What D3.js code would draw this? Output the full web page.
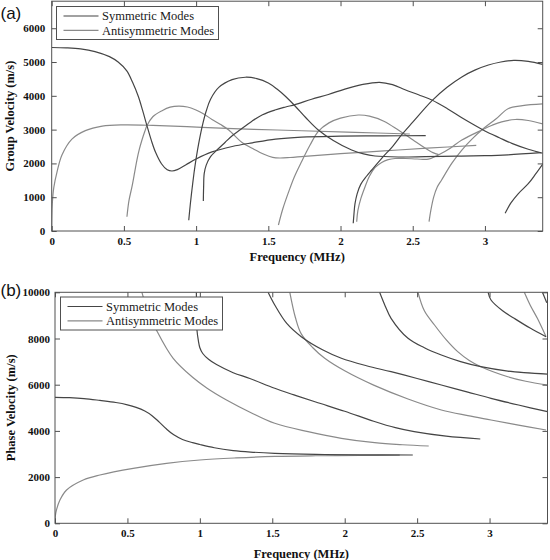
<!DOCTYPE html>
<html><head><meta charset="utf-8">
<script src="https://cdn.jsdelivr.net/npm/d3@7"></script>
<style>body{margin:0;background:#fff}svg{display:block}</style>
</head><body>
<svg id="c" width="550" height="560"></svg>
<script>
// ---------- tick labels / legend ----------
const freqTicks = [0, 0.5, 1, 1.5, 2, 2.5, 3];
const groupTicks = [0, 1000, 2000, 3000, 4000, 5000, 6000];
const phaseTicks = [0, 2000, 4000, 6000, 8000, 10000];
const legendLabels = ["Symmetric Modes", "Antisymmetric Modes"];

// ---------- (a) group velocity, [frequency MHz, velocity m/s] ----------
const groupS0 = [[0,5430],[0.1,5420],[0.2,5390],[0.3,5310],[0.4,5160],[0.46,5000],[0.52,4740],[0.56,4400],[0.6,3980],[0.63,3560],[0.66,3110],[0.69,2680],[0.72,2320],[0.76,1990],[0.8,1810],[0.833,1775],[0.87,1815],[0.93,1960],[1.0,2130],[1.11,2340],[1.25,2500],[1.39,2610],[1.55,2720],[1.73,2780],[2.0,2805],[2.3,2815],[2.59,2822]];
const groupA0 = [[0,0],[0.004,800],[0.015,1300],[0.037,1750],[0.071,2250],[0.14,2720],[0.233,2970],[0.35,3105],[0.5,3140],[0.7,3125],[1.04,3068],[1.4,3010],[1.733,2967],[2.1,2920],[2.48,2870]];
const groupA1 = [[0.521,420],[0.535,900],[0.556,1311],[0.575,1750],[0.59,2100],[0.607,2420],[0.625,2692],[0.645,2950],[0.66,3120],[0.7,3380],[0.764,3560],[0.82,3665],[0.88,3698],[0.94,3670],[0.995,3590],[1.05,3470],[1.11,3300],[1.17,3150],[1.226,2988],[1.318,2620],[1.4,2420],[1.47,2270],[1.53,2180],[1.58,2160],[1.65,2175],[1.75,2210],[2.0,2290],[2.3,2370],[2.6,2450],[2.94,2535]];
const groupS1 = [[0.949,320],[0.96,800],[0.972,1250],[0.985,1700],[0.995,2003],[1.01,2400],[1.025,2750],[1.045,3150],[1.07,3550],[1.1,3900],[1.157,4250],[1.249,4480],[1.341,4550],[1.42,4510],[1.5,4380],[1.56,4200],[1.62,3980],[1.685,3700],[1.76,3350],[1.846,2988],[1.95,2680],[2.077,2396],[2.16,2280],[2.239,2219],[2.4,2190],[2.585,2199],[2.8,2215],[3.0,2230],[3.16,2255],[3.39,2317]];
const groupS2 = [[1.05,888],[1.052,1300],[1.056,1700],[1.07,1950],[1.1,2200],[1.15,2420],[1.2,2620],[1.25,2820],[1.3,2980],[1.387,3250],[1.46,3440],[1.546,3580],[1.62,3670],[1.685,3740],[1.8,3900],[1.916,4040],[2.03,4200],[2.147,4330],[2.27,4400],[2.36,4330],[2.447,4180],[2.54,4030],[2.632,3876],[2.74,3620],[2.84,3350],[2.92,3150],[3.0,2960],[3.1,2760],[3.186,2594],[3.3,2420],[3.4,2300]];
const groupA2 = [[1.57,177],[1.6,650],[1.64,1150],[1.68,1600],[1.73,2050],[1.79,2550],[1.846,2950],[1.92,3200],[2.0,3340],[2.123,3432],[2.2,3400],[2.3,3250],[2.4,2988],[2.5,2700],[2.58,2470],[2.64,2320],[2.68,2260]];
const groupS3 = [[2.088,228],[2.093,500],[2.1,800],[2.115,1100],[2.14,1380],[2.18,1620],[2.216,1805],[2.285,2150],[2.36,2500],[2.424,2850],[2.5,3220],[2.632,3850],[2.74,4260],[2.84,4560],[2.93,4760],[3.024,4911],[3.11,5000],[3.2,5050],[3.3,5020],[3.4,4930]];
const groupA3 = [[2.112,275],[2.12,600],[2.14,950],[2.17,1311],[2.2,1620],[2.24,1880],[2.285,2030],[2.33,2110],[2.377,2145],[2.45,2145],[2.53,2130],[2.608,2125],[2.677,2249],[2.76,2450],[2.84,2692],[2.978,2988],[3.05,3130],[3.116,3230],[3.21,3300],[3.3,3270],[3.4,3170]];
const groupA4 = [[2.613,275],[2.625,600],[2.645,1000],[2.67,1300],[2.7,1509],[2.77,2000],[2.84,2396],[2.91,2720],[2.978,2988],[3.08,3330],[3.16,3620],[3.26,3710],[3.4,3760]];
const groupS4 = [[3.14,523],[3.18,830],[3.23,1100],[3.3,1400],[3.35,1680],[3.404,2003]];

// ---------- (b) phase velocity, [frequency MHz, velocity m/s] ----------
const phaseS0 = [[0,5455],[0.1,5440],[0.2,5400],[0.31,5320],[0.42,5230],[0.5,5130],[0.56,5020],[0.62,4860],[0.67,4660],[0.72,4380],[0.77,4080],[0.82,3830],[0.88,3630],[0.95,3490],[1.0,3410],[1.1,3270],[1.23,3150],[1.35,3085],[1.517,3030],[1.8,2985],[2.1,2965],[2.47,2957]];
const phaseA0 = [[0,0],[0.002,300],[0.011,600],[0.034,1009],[0.08,1442],[0.195,1874],[0.31,2091],[0.54,2380],[0.77,2597],[1.0,2740],[1.25,2830],[1.517,2895],[1.8,2925],[2.1,2940],[2.38,2948]];
const phaseA1 = [[0.6,10000],[0.64,9200],[0.7,8372],[0.816,7143],[0.954,6300],[1.05,5850],[1.184,5339],[1.35,4800],[1.517,4329],[1.747,3966],[1.977,3680],[2.207,3489],[2.4,3400],[2.58,3346]];
const phaseS1 = [[0.976,10000],[0.977,9200],[0.98,8368],[0.99,7900],[1.0,7600],[1.02,7350],[1.06,7100],[1.115,6870],[1.23,6520],[1.345,6270],[1.517,5844],[1.65,5560],[1.8,5250],[2.0,4850],[2.2,4420],[2.35,4140],[2.48,3966],[2.7,3770],[2.936,3649]];
const phaseS2 = [[1.471,10000],[1.517,9450],[1.6,8650],[1.7,8078],[1.85,7500],[1.977,7143],[2.15,6820],[2.32,6563],[2.5,6270],[2.667,5987],[2.85,5680],[3.01,5411],[3.2,5120],[3.4,4831]];
const phaseA2 = [[1.621,10000],[1.66,8900],[1.7,8200],[1.78,7600],[1.862,7143],[2.0,6600],[2.2,5980],[2.437,5380],[2.667,4905],[2.85,4660],[3.01,4472],[3.2,4250],[3.39,4039]];
const phaseS3 = [[2.241,10000],[2.28,9400],[2.32,8874],[2.437,8009],[2.55,7600],[2.667,7286],[2.8,7000],[2.94,6779],[3.126,6590],[3.4,6460]];
const phaseA3 = [[2.506,10000],[2.55,9200],[2.62,8584],[2.7,7950],[2.78,7430],[2.86,7050],[2.94,6779],[3.126,6346],[3.25,6150],[3.4,5987]];
const phaseS4 = [[2.99,10000],[3.01,9667],[3.09,9200],[3.17,8874],[3.28,8450],[3.39,8078]];
const phaseA4 = [[3.24,10000],[3.28,9450],[3.33,8874],[3.39,8078]];
const phaseS5 = [[3.365,10000],[3.395,9550]];

const groupSymmetric = [groupS0, groupS1, groupS2, groupS3, groupS4];
const groupAntisymmetric = [groupA0, groupA1, groupA2, groupA3, groupA4];
const phaseSymmetric = [phaseS0, phaseS1, phaseS2, phaseS3, phaseS4, phaseS5];
const phaseAntisymmetric = [phaseA0, phaseA1, phaseA2, phaseA3, phaseA4];

// ---------- drawing ----------
const COL_S = "#454545", COL_A = "#8a8a8a", FRAME = "#505050";
const SERIF = "'Liberation Serif','Times New Roman',serif";
const svg = d3.select("#c");

function panel(p) {
  const x = d3.scaleLinear().domain([0, 3.4]).range([p.left, p.right]);
  const y = d3.scaleLinear().domain([0, p.yMax]).range([p.bottom, p.top]);
  const g = svg.append("g");
  g.append("clipPath").attr("id", "clip" + p.id).append("rect")
    .attr("x", p.left).attr("y", p.top).attr("width", p.right - p.left).attr("height", p.bottom - p.top);
  const line = d3.line().x(d => x(d[0])).y(d => y(d[1])).curve(d3.curveCatmullRom.alpha(0.5));
  const cg = g.append("g").attr("clip-path", `url(#clip${p.id})`);
  p.anti.forEach(c => cg.append("path").attr("d", line(c)).attr("fill", "none")
    .attr("stroke", COL_A).attr("stroke-width", 1.2));
  p.sym.forEach(c => cg.append("path").attr("d", line(c)).attr("fill", "none")
    .attr("stroke", COL_S).attr("stroke-width", 1.2));

  const fmt = d => String(d);
  const style = sel => {
    sel.select(".domain").remove();
    sel.selectAll(".tick line").attr("stroke", FRAME).attr("stroke-width", 1);
    sel.selectAll("text").attr("font-family", SERIF).attr("font-size", 11)
      .attr("font-weight", "bold").attr("fill", "#111");
  };
  g.append("g").attr("transform", `translate(0,${p.bottom})`)
    .call(d3.axisBottom(x).tickValues(freqTicks).tickFormat(fmt).tickSize(-5).tickSizeOuter(0).tickPadding(p.xPad)).call(style);
  g.append("g").attr("transform", `translate(0,${p.top})`)
    .call(d3.axisTop(x).tickValues(freqTicks).tickFormat("").tickSize(-5).tickSizeOuter(0)).call(style);
  g.append("g").attr("transform", `translate(${p.left},0)`)
    .call(d3.axisLeft(y).tickValues(p.yTicks).tickFormat(fmt).tickSize(-5).tickSizeOuter(0).tickPadding(p.yPad)).call(style);
  g.append("g").attr("transform", `translate(${p.right},0)`)
    .call(d3.axisRight(y).tickValues(p.yTicks).tickFormat("").tickSize(-5).tickSizeOuter(0)).call(style);

  g.append("rect").attr("x", p.left).attr("y", p.top).attr("width", p.right - p.left)
    .attr("height", p.bottom - p.top).attr("fill", "none").attr("stroke", FRAME).attr("stroke-width", 1);

  g.append("text").attr("x", (p.left + p.right) / 2).attr("y", p.xTitleY).attr("text-anchor", "middle")
    .attr("font-family", SERIF).attr("font-size", 12.5).attr("font-weight", "bold").attr("fill", "#111")
    .text("Frequency (MHz)");
  g.append("text").attr("transform", `translate(${p.yTitleX},${(p.top + p.bottom) / 2}) rotate(-90)`)
    .attr("text-anchor", "middle").attr("font-family", SERIF).attr("font-size", 12.5)
    .attr("font-weight", "bold").attr("fill", "#111").text(p.yTitle);

  // legend
  const lg = g.append("g");
  lg.append("rect").attr("x", p.lgX).attr("y", p.lgY).attr("width", 162).attr("height", 33)
    .attr("fill", "#fff").attr("stroke", FRAME).attr("stroke-width", 1);
  [COL_S, COL_A].forEach((col, i) => {
    const yy = p.lgY + 9.5 + i * 14.3;
    lg.append("line").attr("x1", p.lgX + 7).attr("x2", p.lgX + 42).attr("y1", yy).attr("y2", yy)
      .attr("stroke", col).attr("stroke-width", 1.2);
    lg.append("text").attr("x", p.lgX + 45.5).attr("y", yy).attr("dy", "0.35em")
      .attr("font-family", SERIF).attr("font-size", 12.5).attr("fill", "#1a1a1a").text(legendLabels[i]);
  });

  svg.append("text").attr("x", 0.5).attr("y", p.tagY).attr("font-family", "'Liberation Sans',Arial,sans-serif")
    .attr("font-size", 17).attr("fill", "#111").text(p.tag);
}

panel({id: "a", left: 51.7, right: 542.7, top: 1.2, bottom: 231, yMax: 6800, yTicks: groupTicks,
  sym: groupSymmetric, anti: groupAntisymmetric, xPad: 6.5, yPad: 6.5, xTitleY: 260.5, yTitleX: 13.5,
  yTitle: "Group Velocity (m/s)", lgX: 56.5, lgY: 6.5, tag: "(a)", tagY: 18.5});
panel({id: "b", left: 55, right: 547.5, top: 292.3, bottom: 523.3, yMax: 10000, yTicks: phaseTicks,
  sym: phaseSymmetric, anti: phaseAntisymmetric, xPad: 5.5, yPad: 5, xTitleY: 557.5, yTitleX: 14.5,
  yTitle: "Phase Velocity (m/s)", lgX: 60.5, lgY: 297, tag: "(b)", tagY: 296});
</script>
</body></html>
